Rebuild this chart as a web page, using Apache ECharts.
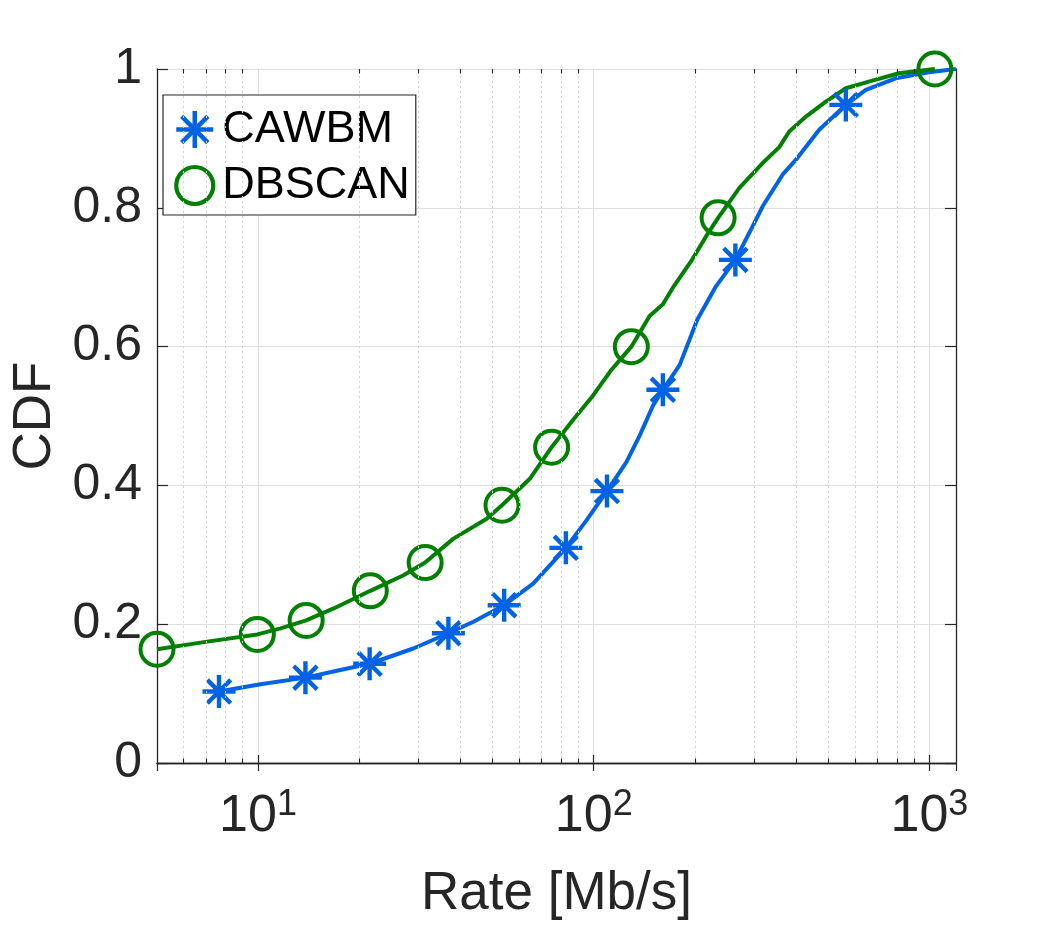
<!DOCTYPE html>
<html><head><meta charset="utf-8">
<script src="https://cdn.jsdelivr.net/npm/echarts@6/dist/echarts.min.js"></script>
<style>html,body{margin:0;padding:0;background:#fff}#c{width:1058px;height:926px}</style>
</head><body><div id="c"></div>
<script>
// ---- axis settings ----
const xMin = 5, xMax = 1200;
const xMinorTicks = [6,7,8,9,20,30,40,50,60,70,80,90,200,300,400,500,600,700,800,900];
const yMin = 0, yMax = 1, yInterval = 0.2;

// ---- CAWBM (blue) ----
const cawbmRate = [7.65,10.17,13.84,17.59,21.5,29.0,36.9,43.8,54.1,66.0,82.6,95.1,109.5,125.1,137.0,150.1,160.7,180.2,203.7,231.5,264.2,297.5,318.6,365.2,400.4,469.5,563.6,646.4,793.4,996.5,1200];
const cawbmCdf  = [0.103,0.1135,0.123,0.134,0.143,0.165,0.187,0.2036,0.2274,0.2586,0.310,0.3496,0.3918,0.4335,0.4717,0.5148,0.5378,0.5733,0.6394,0.6872,0.7249,0.7734,0.8022,0.8477,0.8693,0.9124,0.9483,0.9698,0.9866,0.9953,1.0];
const cawbmMarkerIdx = [0,2,4,6,8,10,12,16,20,26];

// ---- DBSCAN (green) ----
const dbscanRate = [5.0,7.06,9.95,11.67,13.91,16.8,21.6,27.13,31.46,38.2,48.0,53.3,64.5,74.9,87.2,98.6,112.3,129.4,146.7,160.7,172.1,195.1,216.2,234.7,271.6,318.6,357,382.3,428.7,491.5,563.6,676,812,1038];
const dbscanCdf  = [0.164,0.1749,0.1853,0.194,0.2055,0.2227,0.2481,0.2705,0.2888,0.3233,0.352,0.3714,0.4095,0.455,0.4957,0.5269,0.5651,0.5999,0.6441,0.6609,0.6849,0.7231,0.7591,0.7855,0.8286,0.8645,0.8875,0.9099,0.9315,0.953,0.9723,0.9832,0.9938,1.0];
const dbscanMarkerIdx = [0,2,4,6,8,11,13,17,23,33];

const BLUE = '#0063e6', GREEN = '#008000', AX = '#262626';
const FONT = 'Liberation Sans, Arial, Helvetica, sans-serif';
const NARROW = 'Liberation Sans Narrow, Arial Narrow, Liberation Sans, sans-serif';
const ASTERISK = 'path://M0,5L10,5M5,0L5,10M1.46,1.46L8.54,8.54M8.54,1.46L1.46,8.54';

const pairs = (xs, ys) => xs.map((x, i) => [x, ys[i]]);
const pick = (xs, ys, idx) => idx.map(i => [xs[i], ys[i]]);

const minorGrid = xMinorTicks.map(v => ({ xAxis: v }));
const minorTicks = [];
xMinorTicks.forEach(v => {
  minorTicks.push([{ coord: [v, yMin] }, { coord: [v, yMin + 0.0065] }]);
  minorTicks.push([{ coord: [v, yMax] }, { coord: [v, yMax - 0.0065] }]);
});

const chart = echarts.init(document.getElementById('c'), null, { renderer: 'canvas' });
const xLabelFmt = v => {
  const l = Math.log10(v), e = Math.round(l);
  if (Math.abs(l - e) > 1e-6) return '';
  return '{b|10}{s|' + e + '}';
};
const axisCommon = {
  axisLine: { show: true, lineStyle: { color: AX, width: 1.3 } },
};
chart.setOption({
  animation: false,
  backgroundColor: '#fff',
  grid: { left: 157, top: 69, width: 799, height: 696, containLabel: false },
  legend: {
    orient: 'vertical', left: 163, top: 95,
    padding: [12, 6, 7, 11], itemGap: 11,
    itemWidth: 45, itemHeight: 37,
    backgroundColor: '#fff', borderColor: AX, borderWidth: 1.2, borderRadius: 0,
    textStyle: { fontSize: 45, fontFamily: FONT, color: '#000', lineHeight: 32 },
    data: [
      { name: 'CAWBM', itemStyle: { color: 'transparent', borderColor: BLUE, borderWidth: 4.5 } },
      { name: 'DBSCAN', itemStyle: { color: 'transparent', borderColor: GREEN, borderWidth: 4.2 } }
    ]
  },
  xAxis: [
    {
      type: 'log', logBase: 10, min: xMin, max: xMax, position: 'bottom',
      ...axisCommon,
      axisTick: { show: true, inside: true, length: 8, lineStyle: { color: AX, width: 1.2 } },
      axisLabel: {
        show: true, interval: 0, margin: 24, formatter: xLabelFmt,
        showMinLabel: false, showMaxLabel: false,
        rich: {
          b: { fontSize: 52, fontFamily: NARROW, color: AX, verticalAlign: 'bottom', lineHeight: 56 },
          s: { fontSize: 36, fontFamily: NARROW, color: AX, verticalAlign: 'top', lineHeight: 20 }
        }
      },
      splitLine: { show: true, lineStyle: { color: '#dedede', width: 1 } },
      name: 'Rate [Mb/s]', nameLocation: 'middle', nameGap: 105,
      nameTextStyle: { fontSize: 53, fontFamily: FONT, color: AX }
    },
    {
      type: 'log', logBase: 10, min: xMin, max: xMax, position: 'top',
      ...axisCommon,
      axisTick: { show: true, inside: true, length: 8, lineStyle: { color: AX, width: 1.2 } },
      axisLabel: { show: false }, splitLine: { show: false }
    }
  ],
  yAxis: [
    {
      type: 'value', min: yMin, max: yMax, interval: yInterval, position: 'left',
      ...axisCommon,
      axisTick: { show: true, inside: true, length: 11, lineStyle: { color: AX, width: 1.2 } },
      axisLabel: { fontSize: 50, fontFamily: FONT, color: AX, margin: 15 },
      splitLine: { show: true, lineStyle: { color: '#dedede', width: 1 } },
      name: 'CDF', nameLocation: 'middle', nameGap: 92, nameRotate: 90,
      nameTextStyle: { fontSize: 53, fontFamily: FONT, color: AX }
    },
    {
      type: 'value', min: yMin, max: yMax, interval: yInterval, position: 'right',
      ...axisCommon,
      axisTick: { show: true, inside: true, length: 11, lineStyle: { color: AX, width: 1.2 } },
      axisLabel: { show: false }, splitLine: { show: false }
    }
  ],
  series: [
    {
      name: 'minorGrid', type: 'line', z: 1, data: [[xMin, yMin]], showSymbol: false,
      lineStyle: { width: 0 }, silent: true,
      markLine: { silent: true, symbol: 'none', label: { show: false },
        lineStyle: { color: '#d2d2d2', width: 1, type: [2, 3] }, data: minorGrid }
    },
    {
      name: 'minorTicks', type: 'line', z: 6, data: [[xMin, yMin]], showSymbol: false,
      lineStyle: { width: 0 }, silent: true,
      markLine: { silent: true, symbol: 'none', label: { show: false },
        lineStyle: { color: AX, width: 1.1, type: 'solid' }, data: minorTicks }
    },
    {
      name: 'CAWBM line', type: 'line', z: 3, data: pairs(cawbmRate, cawbmCdf),
      showSymbol: false, lineStyle: { color: BLUE, width: 4 }, itemStyle: { color: BLUE }
    },
    {
      name: 'DBSCAN line', type: 'line', z: 3, data: pairs(dbscanRate, dbscanCdf),
      showSymbol: false, lineStyle: { color: GREEN, width: 4 }, itemStyle: { color: GREEN }
    },
    {
      name: 'CAWBM', type: 'scatter', z: 4, clip: false,
      data: pick(cawbmRate, cawbmCdf, cawbmMarkerIdx),
      symbol: ASTERISK, symbolSize: 33,
      itemStyle: { color: 'transparent', borderColor: BLUE, borderWidth: 4.4, opacity: 1 }
    },
    {
      name: 'DBSCAN', type: 'scatter', z: 4, clip: false,
      data: pick(dbscanRate, dbscanCdf, dbscanMarkerIdx),
      symbol: 'circle', symbolSize: 33,
      itemStyle: { color: 'transparent', borderColor: GREEN, borderWidth: 4, opacity: 1 }
    }
  ]
});
</script></body></html>
